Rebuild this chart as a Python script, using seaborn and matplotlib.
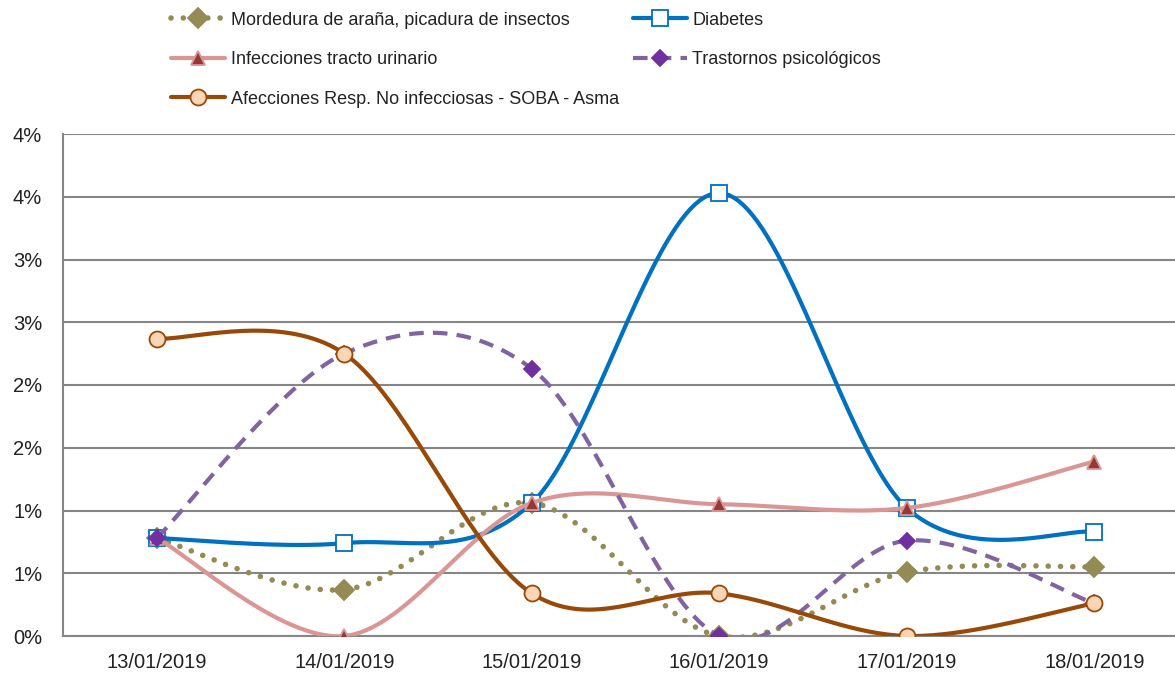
import numpy as np
import matplotlib
matplotlib.use("Agg")
import matplotlib.pyplot as plt
import seaborn as sns
from matplotlib.lines import Line2D

# data (percent)
fechas = ["13/01/2019", "14/01/2019", "15/01/2019", "16/01/2019", "17/01/2019", "18/01/2019"]
mordedura = [0.78, 0.37, 1.06, 0.00, 0.51, 0.55]
diabetes = [0.78, 0.74, 1.06, 3.53, 1.02, 0.83]
urinario = [0.78, 0.00, 1.06, 1.05, 1.02, 1.39]
psicologicos = [0.78, 2.25, 2.13, 0.00, 0.76, 0.26]
respiratorias = [2.37, 2.25, 0.34, 0.34, 0.00, 0.26]
y_ticks = [0, 0.5, 1.0, 1.5, 2.0, 2.5, 3.0, 3.5, 4.0]
y_ticklabels = ["0%", "1%", "1%", "2%", "2%", "3%", "3%", "4%", "4%"]


def smooth(y, n=40):
    # Excel-like smoothed line (Catmull-Rom bezier between points)
    x = np.arange(len(y), dtype=float)
    y = np.asarray(y, dtype=float)
    px = np.concatenate([[x[0]], x, [x[-1]]])
    py = np.concatenate([[y[0]], y, [y[-1]]])
    xs, ys = [], []
    t = np.linspace(0, 1, n)
    for i in range(1, len(px) - 2):
        p0 = np.array([px[i], py[i]])
        p3 = np.array([px[i + 1], py[i + 1]])
        p1 = p0 + (p3 - np.array([px[i - 1], py[i - 1]])) / 6
        p2 = p3 - (np.array([px[i + 2], py[i + 2]]) - p0) / 6
        b = ((1 - t) ** 3)[:, None] * p0 + (3 * (1 - t) ** 2 * t)[:, None] * p1 \
            + (3 * (1 - t) * t ** 2)[:, None] * p2 + (t ** 3)[:, None] * p3
        xs.extend(b[:, 0])
        ys.extend(b[:, 1])
    return np.array(xs), np.array(ys)


sns.set_style("white")
plt.rcParams["font.family"] = ["Liberation Sans", "DejaVu Sans"]

fig = plt.figure(figsize=(11.75, 6.73), dpi=100)
ax = fig.add_axes([63 / 1175, 1 - 636 / 673, 1 - 63 / 1175, (636 - 134) / 673])

OLIVE = "#948A54"
series = [
    # label, values, line color, line style, line width, marker, face, edge, size
    ("Mordedura de araña, picadura de insectos", mordedura, OLIVE, (0, (0.01, 2.2)), 4.0, "D", OLIVE, OLIVE, 10.5),
    ("Infecciones tracto urinario", urinario, "#DA9694", "-", 3.0, "^", "#953735", "#D99594", 10),
    ("Afecciones Resp. No infecciosas - SOBA - Asma", respiratorias, "#984807", "-", 3.0, "o", "#FCD5B5", "#984807", 11.5),
    ("Diabetes", diabetes, "#0070C0", "-", 3.0, "s", "white", "#0070C0", 11.5),
    ("Trastornos psicológicos", psicologicos, "#8064A2", (0, (3.5, 2.2)), 3.0, "D", "#7030A0", "#7030A0", 8),
]
# excel series order: mordedura, diabetes, urinario, trastornos, afecciones
draw_order = [0, 3, 1, 4, 2]

handles = []
for lab, vals, col, ls, lw, mk, fc, ec, ms in series:
    handles.append(Line2D([0], [0], color=col, lw=lw, ls=ls, marker=mk, markersize=ms,
                          markerfacecolor=fc, markeredgecolor=ec, markeredgewidth=1.3,
                          dash_capstyle="round" if col == OLIVE else "butt"))

for k, i in enumerate(draw_order):
    lab, vals, col, ls, lw, mk, fc, ec, ms = series[i]
    xs, ys = smooth(vals)
    sns.lineplot(x=xs, y=ys, ax=ax, color=col, lw=lw, sort=False, estimator=None)
    l = ax.lines[-1]
    l.set_linestyle(ls)
    l.set_zorder(3 + 2 * k)
    if col == OLIVE:
        l.set_dash_capstyle("round")
    ax.plot(range(len(vals)), vals, ls="none", marker=mk, markersize=ms,
            markerfacecolor=fc, markeredgecolor=ec, markeredgewidth=1.3, zorder=4 + 2 * k)

ax.set_ylim(0, 4.0)
ax.set_xlim(-0.5, 5.5 - 13 / 187.5)
ax.set_yticks(y_ticks)
ax.set_yticklabels(y_ticklabels)
ax.set_xticks(range(len(fechas)))
ax.set_xticklabels(fechas)
ax.set_xticks(np.arange(-0.5, 5.5, 1.0), minor=True)
ax.tick_params(axis="x", which="major", length=0, pad=12, labelsize=14.5, colors="#222222")
ax.tick_params(axis="x", which="minor", length=7, width=1.5, color="#868686", direction="out")
ax.tick_params(axis="y", length=7, width=1.5, color="#868686", direction="out", pad=8,
               labelsize=14.5, labelcolor="#222222")
ax.grid(axis="y", color="#868686", lw=1.5)
ax.grid(axis="x", visible=False)
ax.set_axisbelow(True)
for s in ["top", "right"]:
    ax.spines[s].set_visible(False)
for s in ["left", "bottom"]:
    ax.spines[s].set_color("#868686")
    ax.spines[s].set_linewidth(1.5)

fig.legend(handles, [s[0] for s in series], ncol=2, loc="upper left",
           bbox_to_anchor=(155 / 1175, 1.007), frameon=False, fontsize=13,
           handlelength=3.0, handletextpad=0.3, columnspacing=0.75,
           labelspacing=1.25, labelcolor="#222222")

fig.savefig("out.png", dpi=100)
